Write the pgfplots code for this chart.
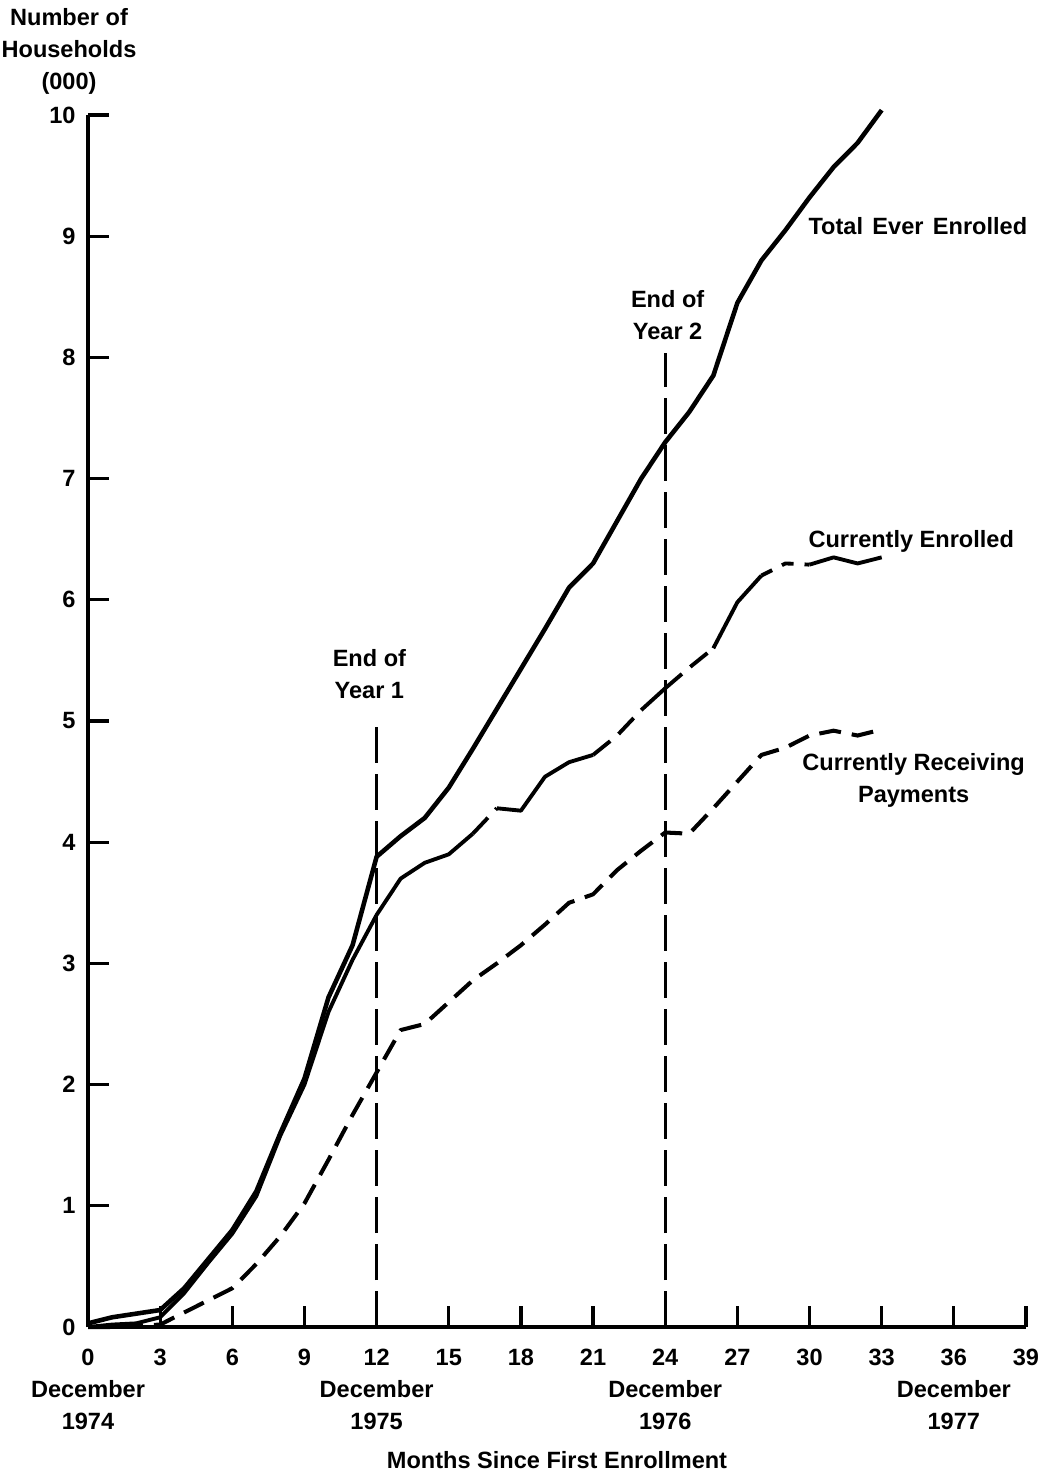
\documentclass[border=0pt]{standalone}
\usepackage{fontspec}
\setmainfont{Liberation Sans}
\usepackage{pgfplots}
\pgfplotsset{compat=1.18}

\begin{document}
\begin{tikzpicture}[font=\fontsize{6.7}{9.1}\selectfont\bfseries]
\begin{axis}[
  width=93.8mm, height=121.2mm, scale only axis,
  xmin=0, xmax=39, ymin=0, ymax=10,
  axis lines*=left,
  axis line style={line width=1.2pt},
  tick align=inside,
  major tick length=2.1mm,
  tick style={line width=0.9pt, black},
  xtick={0,3,...,39},
  xticklabels={{0\\December\\1974},3,6,9,{12\\December\\1975},15,18,21,{24\\December\\1976},27,30,33,{36\\December\\1977},39},
  xticklabel style={align=center, yshift=-1.0mm},
  ytick={0,1,...,10},
  /pgf/number format/assume math mode=true,
  clip=false,
  every axis plot/.append style={line join=round},
]

% Total Ever Enrolled
\addplot[line width=1.3pt] coordinates {
 (0,0.03) (1,0.08) (2,0.11) (3,0.14) (4,0.32) (5,0.56) (6,0.80) (7,1.12)
 (8,1.60) (9,2.05) (10,2.72) (11,3.15) (12,3.88) (13,4.05) (14,4.20)
 (15,4.45) (16,4.77) (17,5.10) (18,5.43) (19,5.76) (20,6.10) (21,6.30)
 (22,6.65) (23,7.00) (24,7.30) (25,7.55) (26,7.85) (27,8.45) (28,8.80)
 (29,9.05) (30,9.32) (31,9.57) (32,9.77) (33,10.04)
};

% Currently Enrolled (partly broken line)
\addplot[line width=1.1pt] coordinates {
 (0,0.00) (1,0.02) (2,0.03) (3,0.08) (4,0.28) (5,0.53) (6,0.77) (7,1.08)
 (8,1.58) (9,2.00) (10,2.60) (11,3.03) (12,3.40) (13,3.70) (14,3.83)
 (15,3.90) (16,4.07)
};
\addplot[line width=1.1pt, dash pattern=on 2.2mm off 1.1mm] coordinates {
 (16,4.07) (17,4.28)
};
\addplot[line width=1.1pt] coordinates {
 (17,4.28) (18,4.26) (19,4.54) (20,4.66) (21,4.72)
};
\addplot[line width=1.1pt, dash pattern=on 2.2mm off 1.1mm] coordinates {
 (21,4.72) (22,4.88) (23,5.09)
};
\addplot[line width=1.1pt] coordinates {
 (23,5.09) (24,5.27)
};
\addplot[line width=1.1pt, dash pattern=on 2.2mm off 1.1mm] coordinates {
 (24,5.27) (25,5.44) (26,5.60)
};
\addplot[line width=1.1pt] coordinates {
 (26,5.60) (27,5.98) (28,6.20)
};
\addplot[line width=1.1pt, dash pattern=on 1.2mm off 1.1mm] coordinates {
 (28,6.20) (29,6.30) (30,6.29)
};
\addplot[line width=1.1pt] coordinates {
 (30,6.29) (31,6.35) (32,6.30) (33,6.35)
};

% Currently Receiving Payments
\addplot[line width=1.15pt, dash pattern=on 2.2mm off 1.1mm] coordinates {
 (0,0.00) (1,0.00) (2,0.01) (3,0.02) (4,0.12) (5,0.22) (6,0.32) (7,0.52)
 (8,0.75) (9,1.02) (10,1.38) (11,1.75) (12,2.10) (13,2.45) (14,2.50)
 (15,2.68) (16,2.86) (17,3.00) (18,3.15) (19,3.32) (20,3.50) (21,3.57)
 (22,3.77) (23,3.93) (24,4.08) (25,4.07) (26,4.28) (27,4.50) (28,4.72)
 (29,4.78) (30,4.88) (31,4.92) (32,4.88) (33,4.93)
};

% end-of-year markers
\addplot[line width=0.8pt, dash pattern=on 3.6mm off 1.1mm] coordinates {(12,0) (12,5.03)};
\addplot[line width=0.8pt, dash pattern=on 3.6mm off 1.1mm] coordinates {(24,0) (24,8.04)};

\node[anchor=south, align=center, inner sep=0pt] at (axis cs:11.7,5.18) {End of\\Year 1};
\node[anchor=south, align=center, inner sep=0pt] at (axis cs:24.1,8.14) {End of\\Year 2};

\node[anchor=base west, inner sep=0pt] at (axis cs:29.93,9.01) {Total\hspace{0.4em}Ever\hspace{0.4em}Enrolled};
\node[anchor=base west, inner sep=0pt] at (axis cs:29.93,6.43) {Currently Enrolled};
\node[anchor=north, align=center, inner sep=0pt] at (axis cs:34.33,4.74) {Currently Receiving\\Payments};

\node[anchor=south, align=center, inner sep=0pt] at ([xshift=-1.9mm, yshift=2.0mm]rel axis cs:0,1) {Number of\\Households\\(000)};
\node[anchor=base, inner sep=0pt] at ([yshift=-14.1mm]rel axis cs:0.5,0) {Months Since First Enrollment};
\end{axis}
\path ([shift={(-8.8mm,-14.5mm)}]current axis.south west) rectangle +(104.6mm,147.2mm);
\end{tikzpicture}
\end{document}
